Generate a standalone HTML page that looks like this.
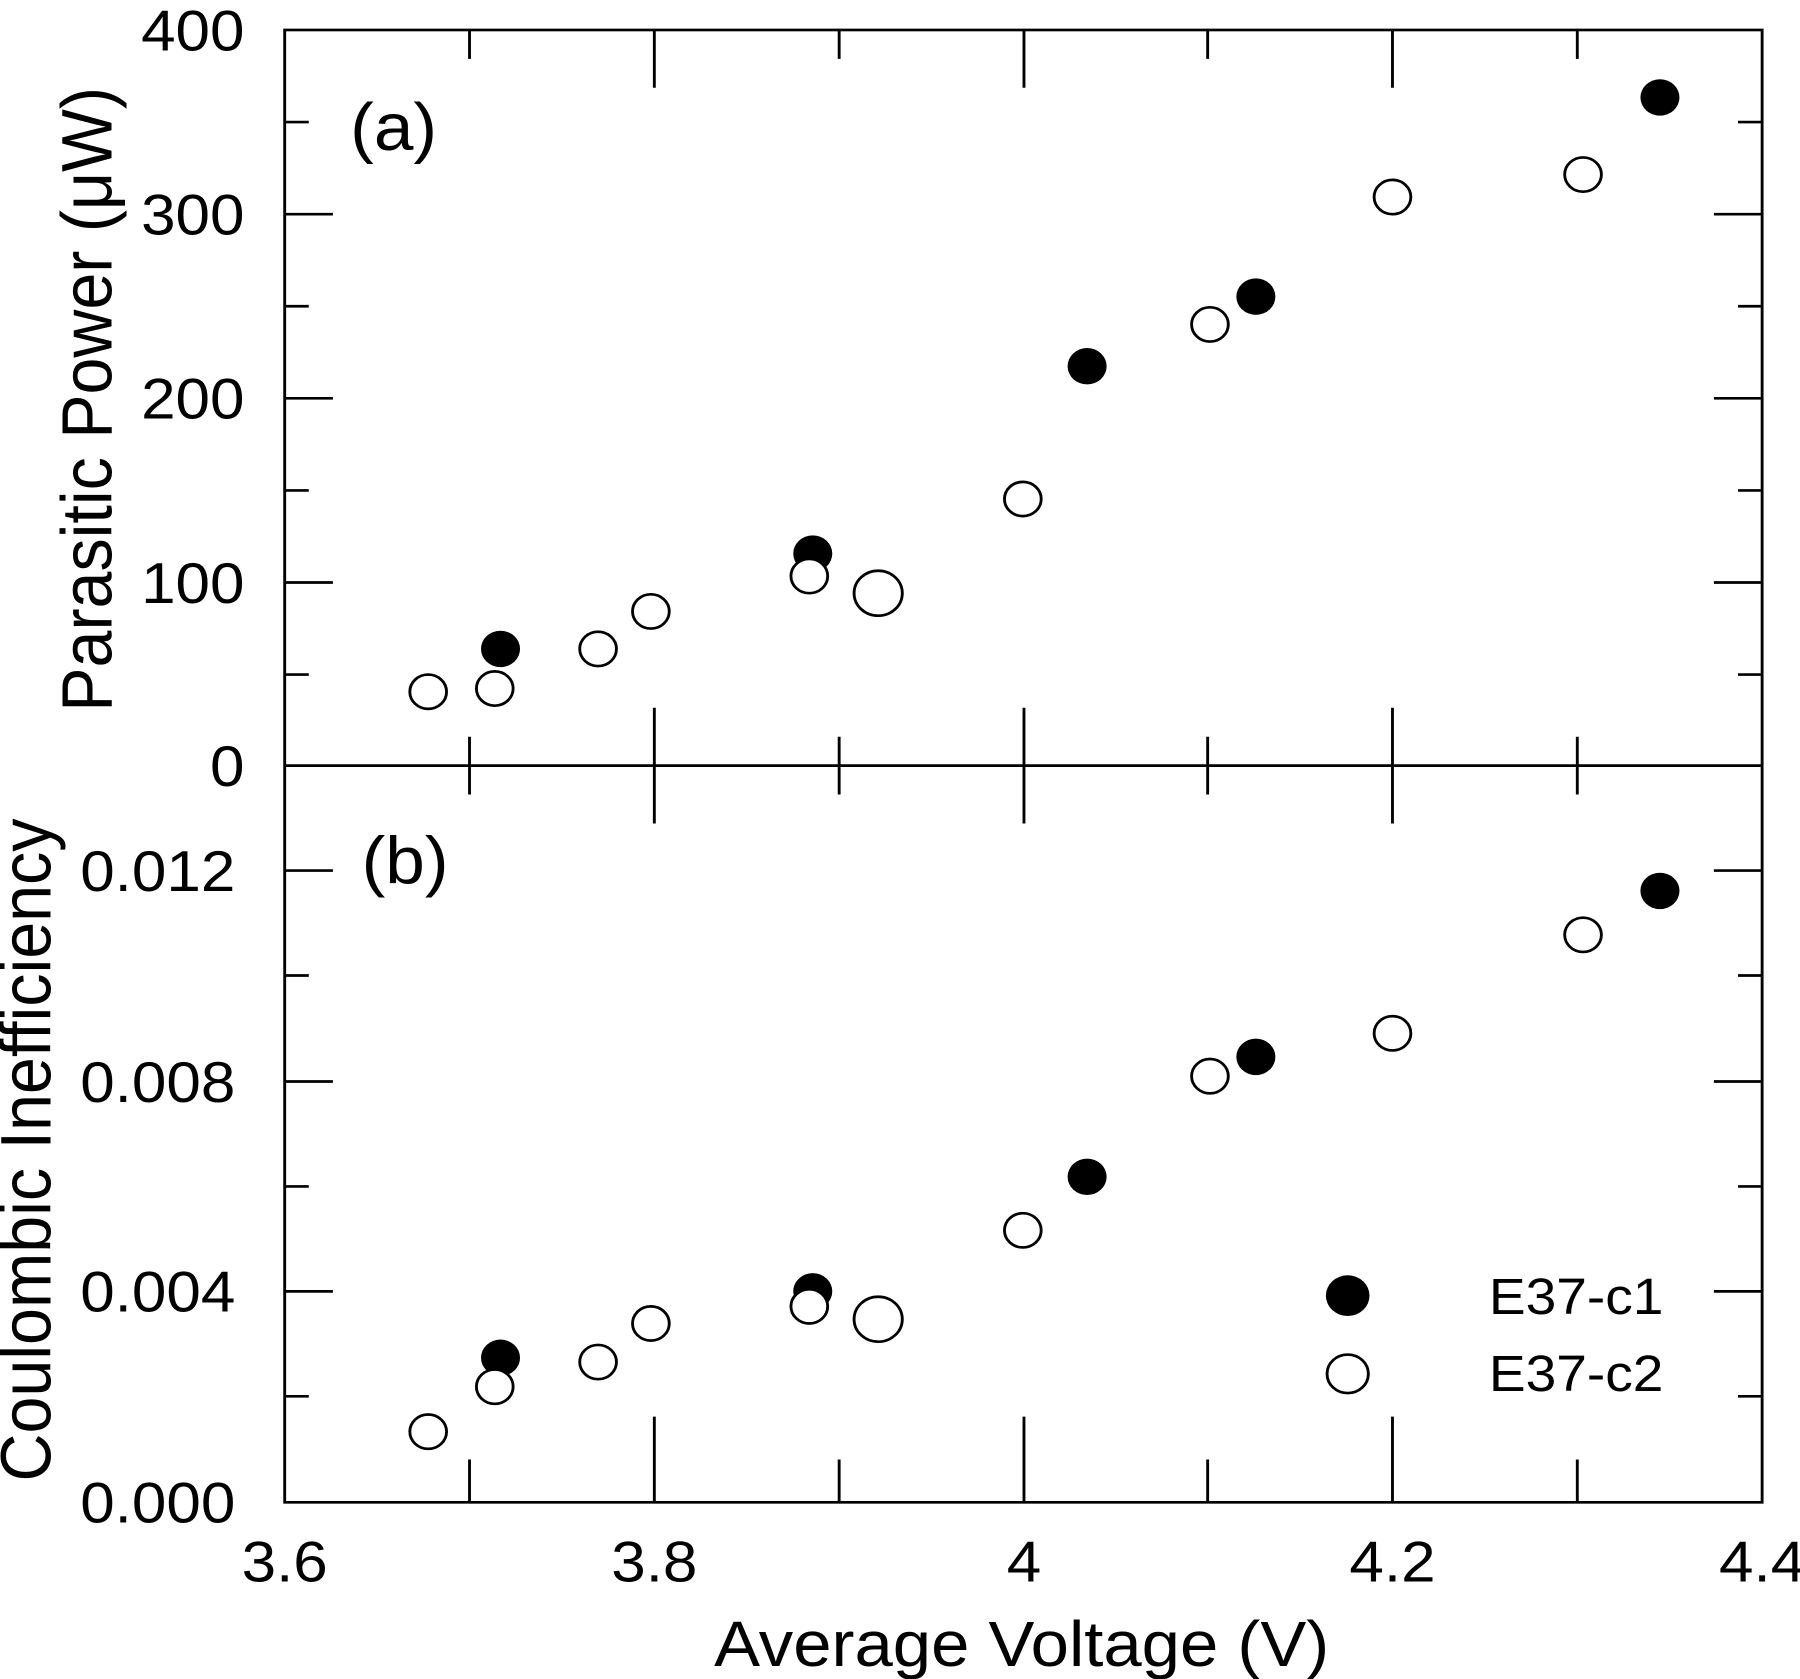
<!DOCTYPE html>
<html><head><meta charset="utf-8"><style>html,body{margin:0;padding:0;background:#fff}svg{display:block}</style></head>
<body>
<svg width="1800" height="1679" viewBox="0 0 1568 1568" preserveAspectRatio="none" xmlns="http://www.w3.org/2000/svg" font-family="Liberation Sans, sans-serif">
<g stroke="#000" stroke-width="2.5" fill="none">
<rect x="248" y="28" width="1287" height="1375"/>
<line x1="248" y1="715" x2="1535" y2="715"/>
<path d="M409,28v27M570,28v54M731,28v27M892,28v54M1052,28v27M1213,28v54M1374,28v27
M409,688v54M570,661v108M731,688v54M892,661v108M1052,688v54M1213,661v108M1374,688v54
M409,1403v-40M570,1403v-80M731,1403v-40M892,1403v-80M1052,1403v-40M1213,1403v-80M1374,1403v-40"/>
<path d="M248,114h21M248,200h42M248,286h21M248,372h42M248,458h21M248,544h42M248,630h21
M1535,114h-21M1535,200h-42M1535,286h-21M1535,372h-42M1535,458h-21M1535,544h-42M1535,630h-21"/>
<path d="M248,1304h21M248,1206h42M248,1108h21M248,1010h42M248,911h21M248,813h42
M1535,1304h-21M1535,1206h-42M1535,1108h-21M1535,1010h-42M1535,911h-21M1535,813h-42"/>
</g>
<g font-size="54" text-anchor="end" fill="#000">
<text x="213" y="47">400</text><text x="213" y="219">300</text><text x="213" y="391">200</text><text x="213" y="563">100</text><text x="213" y="734">0</text>
<text x="205" y="832">0.012</text><text x="205" y="1029">0.008</text><text x="205" y="1225">0.004</text><text x="205" y="1422">0.000</text>
</g>
<g font-size="54" text-anchor="middle" fill="#000">
<text x="248" y="1477">3.6</text><text x="570" y="1477">3.8</text><text x="892" y="1477">4</text><text x="1213" y="1477">4.2</text><text x="1535" y="1477">4.4</text>
</g>
<text x="890" y="1556" font-size="60" text-anchor="middle">Average Voltage (V)</text>
<text transform="translate(97,373) rotate(-90)" font-size="62" text-anchor="middle">Parasitic Power (μW)</text>
<text transform="translate(44,1074) rotate(-90)" font-size="62" text-anchor="middle">Coulombic Inefficiency</text>
<text x="305" y="140" font-size="62">(a)</text>
<text x="315" y="825" font-size="62">(b)</text>
<g fill="#000">
<circle cx="436" cy="606" r="17"/><circle cx="708" cy="517" r="17"/><circle cx="947" cy="342" r="17"/><circle cx="1094" cy="277" r="17"/><circle cx="1446" cy="91" r="17"/>
<circle cx="436" cy="1268" r="17"/><circle cx="708" cy="1206" r="17"/><circle cx="947" cy="1099" r="17"/><circle cx="1094" cy="987" r="17"/><circle cx="1446" cy="832" r="17"/>
<circle cx="1174" cy="1210" r="19"/>
</g>
<g fill="#fff" stroke="#000" stroke-width="2.5">
<circle cx="373" cy="646" r="16"/><circle cx="431" cy="643" r="16"/><circle cx="521" cy="606" r="16"/><circle cx="567" cy="571" r="16"/><circle cx="705" cy="538" r="16"/><circle cx="765" cy="554" r="21"/><circle cx="891" cy="466" r="16"/><circle cx="1054" cy="303" r="16"/><circle cx="1213" cy="184" r="16"/><circle cx="1379" cy="163" r="16"/>
<circle cx="373" cy="1337" r="16"/><circle cx="431" cy="1295" r="16"/><circle cx="521" cy="1272" r="16"/><circle cx="567" cy="1236" r="16"/><circle cx="705" cy="1220" r="16"/><circle cx="765" cy="1232" r="21"/><circle cx="891" cy="1149" r="16"/><circle cx="1054" cy="1005" r="16"/><circle cx="1213" cy="965" r="16"/><circle cx="1379" cy="873" r="16"/>
<circle cx="1174" cy="1283" r="18"/>
</g>
<text x="1297" y="1227" font-size="48">E37-c1</text>
<text x="1297" y="1299" font-size="48">E37-c2</text>
</svg>
</body></html>
